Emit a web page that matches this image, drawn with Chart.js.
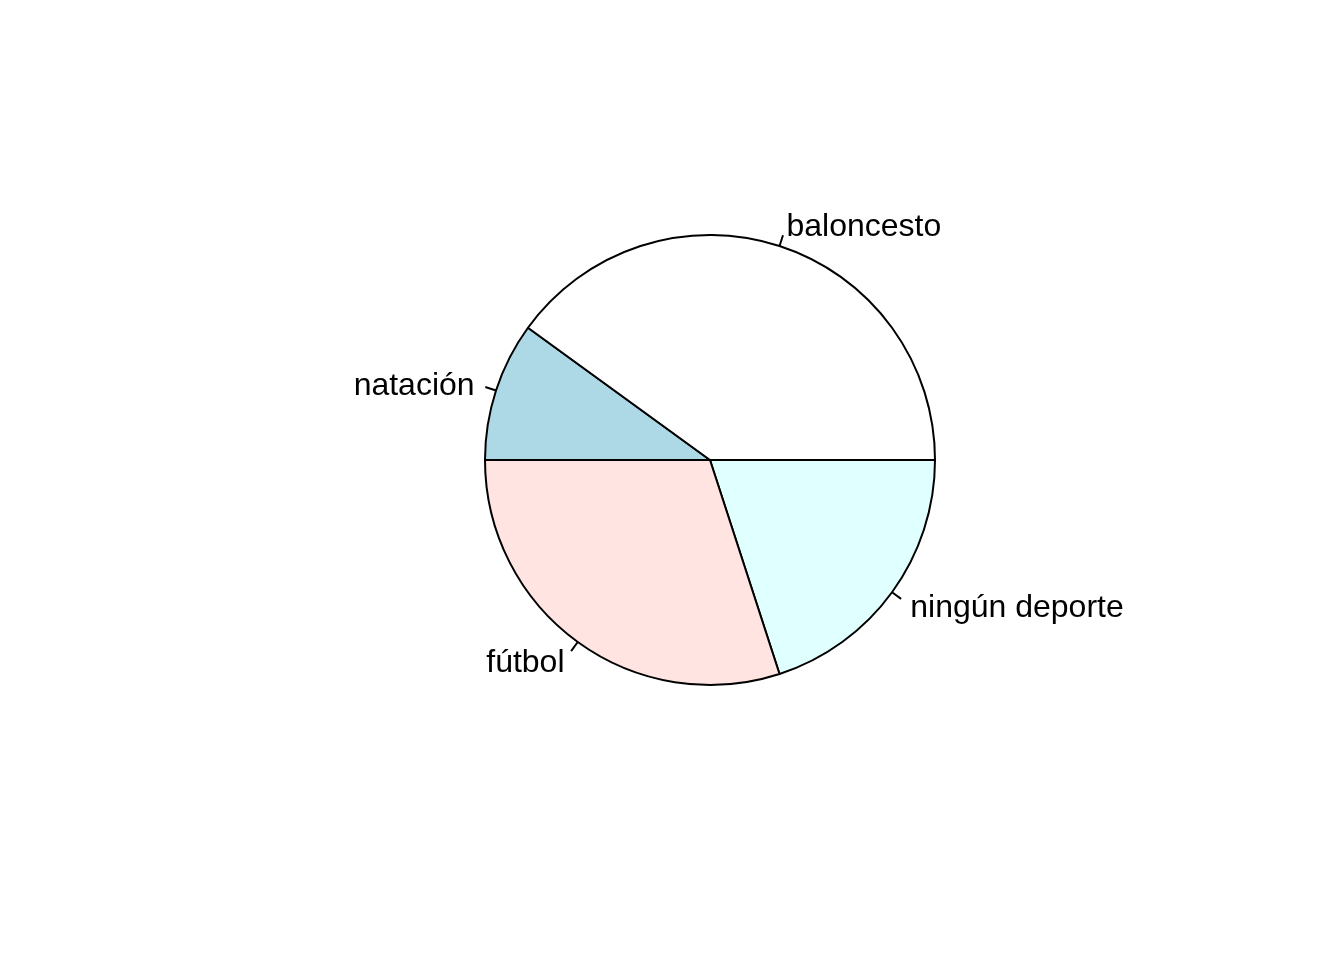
<!DOCTYPE html>
<html lang="es">
<head>
    <meta charset="utf-8" />
    <title>Deportes</title>
    <style>
        body { margin: 0; background: #fff; }
        #pieChart { display: block; }
    </style>
</head>
<body>
    <canvas id="pieChart" width="1344" height="960"></canvas>
    <script src="https://cdn.jsdelivr.net/npm/chart.js"></script>
    <script>
        // R draws counter-clockwise from 3 o'clock; Chart.js goes clockwise,
        // so the order here is reversed and rotation starts at 90deg
        var categories = ['ningún deporte', 'fútbol', 'natación', 'baloncesto'];
        var counts = [2, 3, 1, 4];
        var sliceColors = ['#E0FFFF', '#FFE4E1', '#ADD8E6', '#FFFFFF'];

        // labels outside the pie with a short tick, like R's pie()
        var outsideLabels = {
            id: 'outsideLabels',
            afterDatasetsDraw: function(chart) {
                var ctx = chart.ctx;
                var meta = chart.getDatasetMeta(0);
                ctx.save();
                ctx.strokeStyle = '#000';
                ctx.lineWidth = 2;
                ctx.fillStyle = '#000';
                ctx.font = '32px "Liberation Sans", Arial, sans-serif';
                ctx.textBaseline = 'middle';
                meta.data.forEach(function(arc, i) {
                    var p = arc.getProps(['x', 'y', 'startAngle', 'endAngle', 'outerRadius'], true);
                    var mid = (p.startAngle + p.endAngle) / 2;
                    var c = Math.cos(mid), s = Math.sin(mid);
                    var r = p.outerRadius;
                    ctx.beginPath();
                    ctx.moveTo(p.x + r * c, p.y + r * s);
                    ctx.lineTo(p.x + 1.05 * r * c, p.y + 1.05 * r * s);
                    ctx.stroke();
                    ctx.textAlign = c > 0 ? 'left' : 'right';
                    ctx.fillText(categories[i], p.x + 1.1 * r * c, p.y + 1.1 * r * s + 3);
                });
                ctx.restore();
            }
        };

        var ctx = document.getElementById('pieChart').getContext('2d');
        var myPieChart = new Chart(ctx, {
            type: 'pie',
            data: {
                labels: categories,
                datasets: [{
                    data: counts,
                    backgroundColor: sliceColors,
                    borderColor: '#000',
                    borderWidth: 2,
                    hoverOffset: 0
                }]
            },
            options: {
                responsive: false,
                animation: false,
                rotation: 90,
                radius: 225,
                layout: { padding: { left: 76, right: 0, top: 0, bottom: 40 } },
                plugins: {
                    legend: { display: false },
                    tooltip: { enabled: false }
                }
            },
            plugins: [outsideLabels]
        });
    </script>
</body>
</html>
